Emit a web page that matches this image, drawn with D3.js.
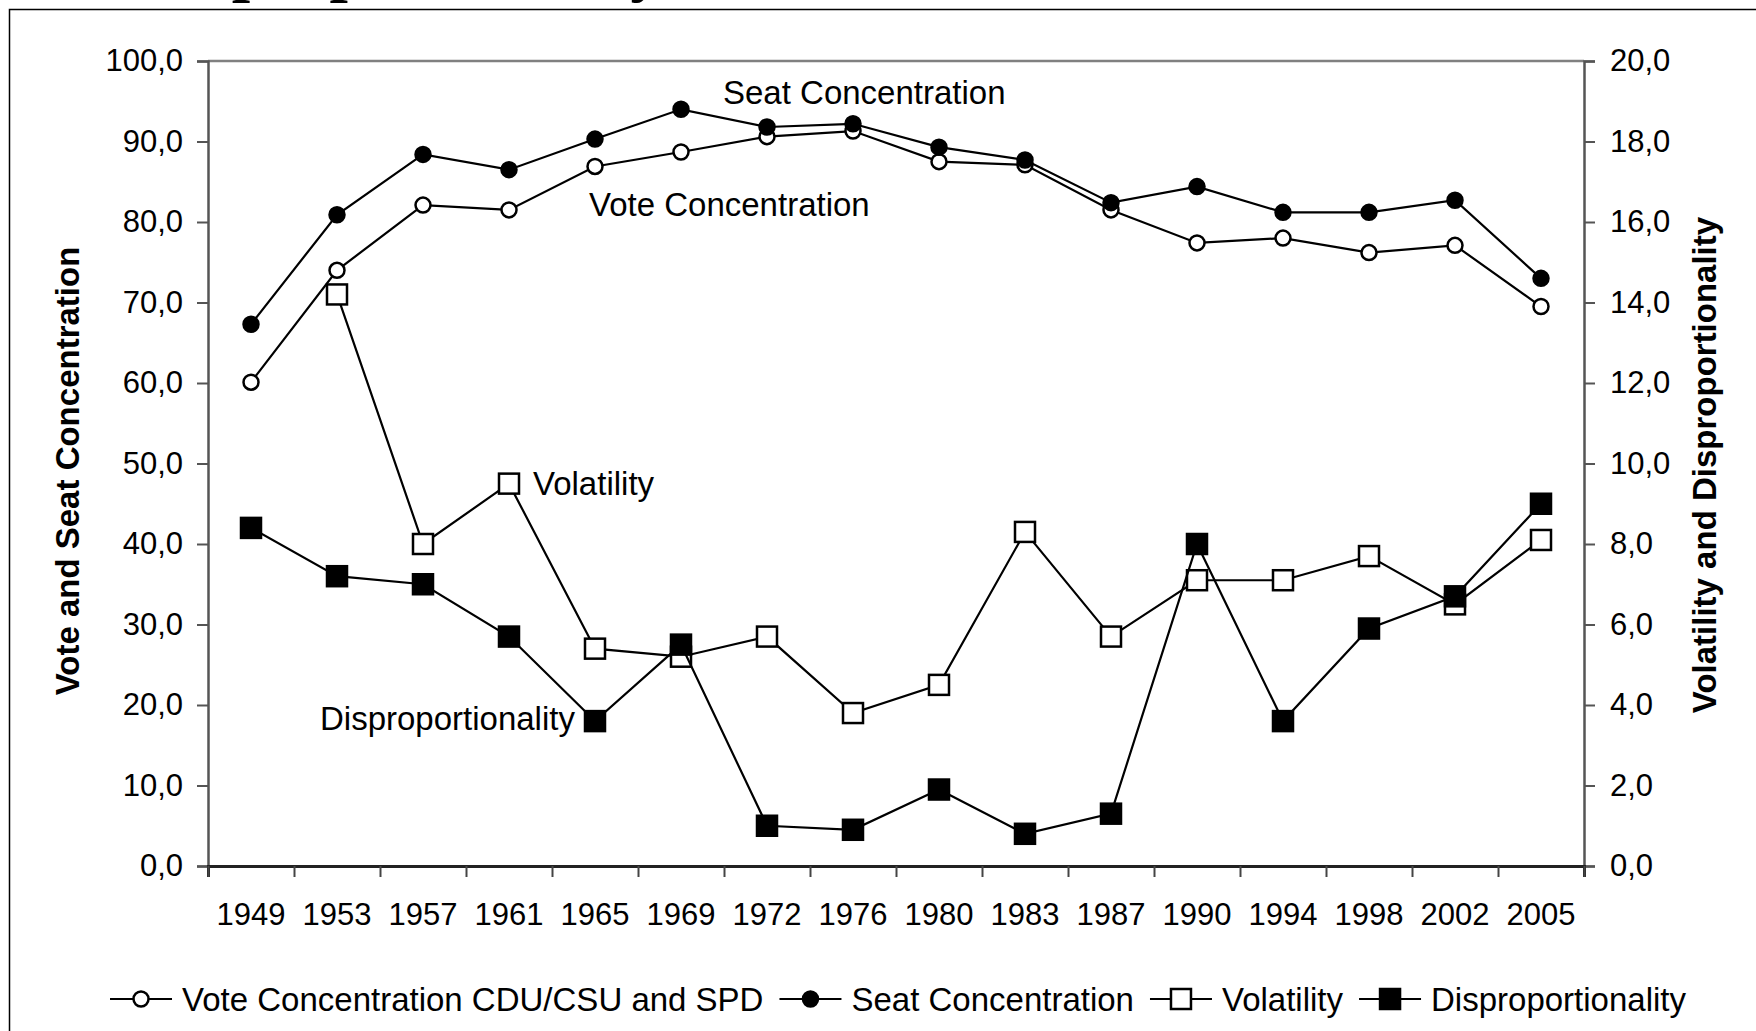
<!DOCTYPE html>
<html lang="en">
<head>
  <meta charset="utf-8">
  <script src="https://d3js.org/d3.v7.min.js"></script>
  <style>
    body { margin: 0; background: #fff; }
    svg { display: block; font-family: "Liberation Sans", Arial, sans-serif; }
    .tick text { font-size: 31px; fill: #000; }
    .series path { fill: none; stroke: #000; stroke-width: 2.2; }
    .lbl { font-size: 33px; fill: #000; }
    .ytitle { font-size: 33px; font-weight: bold; }
  </style>
</head>
<body>
<svg id="chart" width="1756" height="1031"></svg>
<script>
  var years = ["1949", "1953", "1957", "1961", "1965", "1969", "1972", "1976",
               "1980", "1983", "1987", "1990", "1994", "1998", "2002", "2005"];
  var voteConc = [60.1, 74.0, 82.1, 81.5, 86.9, 88.7, 90.6, 91.3, 87.5, 87.1, 81.5, 77.4, 78.0, 76.2, 77.1, 69.5];
  var seatConc = [67.3, 80.9, 88.4, 86.5, 90.3, 94.0, 91.8, 92.2, 89.3, 87.7, 82.4, 84.4, 81.2, 81.2, 82.7, 73.0];
  var volatility = [null, 14.2, 8.0, 9.5, 5.4, 5.2, 5.7, 3.8, 4.5, 8.3, 5.7, 7.1, 7.1, 7.7, 6.5, 8.1];
  var disprop = [8.4, 7.2, 7.0, 5.7, 3.6, 5.5, 1.0, 0.9, 1.9, 0.8, 1.3, 8.0, 3.6, 5.9, 6.7, 9.0];
  var leftTicks = [0, 10, 20, 30, 40, 50, 60, 70, 80, 90, 100];
  var rightTicks = [0, 2, 4, 6, 8, 10, 12, 14, 16, 18, 20];

  var svg = d3.select("#chart");
  var plotL = 208, plotR = 1584, plotT = 61, plotB = 866;
  var fmt = function(d) { return d3.format(".1f")(d).replace(".", ","); };

  // outer frame and cut-off heading above it
  svg.append("text")
      .attr("x", 140).attr("y", -11)
      .style("font-family", "'Liberation Serif', 'Times New Roman', serif")
      .style("font-weight", "bold").style("font-size", "66px")
      .text("Disproportionality");
  svg.append("rect")
      .attr("x", 9.5).attr("y", 9.5)
      .attr("width", 1800).attr("height", 1100)
      .attr("fill", "none").attr("stroke", "#000").attr("stroke-width", 1.5);

  var x = d3.scaleBand().domain(years).range([plotL, plotR]).padding(0);
  var xEdge = d3.scaleLinear().domain([0, years.length]).range([plotL, plotR]);
  var yL = d3.scaleLinear().domain([0, 100]).range([plotB, plotT]);
  var yR = d3.scaleLinear().domain([0, 20]).range([plotB, plotT]);
  var cx = function(i) { return x(years[i]) + x.bandwidth() / 2; };

  // plot area top border
  svg.append("line")
      .attr("x1", plotL).attr("x2", plotR).attr("y1", plotT).attr("y2", plotT)
      .attr("stroke", "#808080").attr("stroke-width", 2.5);

  var gL = svg.append("g").attr("transform", "translate(" + plotL + ",0)")
      .call(d3.axisLeft(yL).tickValues(leftTicks).tickFormat(fmt).tickSize(11).tickPadding(14));
  var gR = svg.append("g").attr("transform", "translate(" + plotR + ",0)")
      .call(d3.axisRight(yR).tickValues(rightTicks).tickFormat(fmt).tickSize(11).tickPadding(15));
  var gE = svg.append("g").attr("transform", "translate(0," + plotB + ")")
      .call(d3.axisBottom(xEdge).tickValues(d3.range(years.length + 1)).tickFormat("").tickSize(11));
  var gX = svg.append("g").attr("transform", "translate(0," + plotB + ")")
      .call(d3.axisBottom(x).tickSize(0).tickPadding(37));
  gX.select(".domain").remove();
  [gL, gR].forEach(function(g) {
    g.select(".domain").attr("stroke", "#555").attr("stroke-width", 2.5);
    g.selectAll(".tick line").attr("stroke", "#555").attr("stroke-width", 2);
    g.selectAll("text").style("font-family", "'Liberation Sans', Arial, sans-serif");
  });
  gE.select(".domain").attr("stroke", "#222").attr("stroke-width", 3);
  gE.selectAll(".tick line").attr("stroke", "#444").attr("stroke-width", 2);
  gX.selectAll("text").style("font-family", "'Liberation Sans', Arial, sans-serif");

  // axis titles
  svg.append("text").attr("class", "ytitle")
      .attr("transform", "translate(67,471) rotate(-90)")
      .attr("text-anchor", "middle").attr("dominant-baseline", "central")
      .text("Vote and Seat Concentration");
  svg.append("text").attr("class", "ytitle")
      .attr("transform", "translate(1704,465) rotate(-90)")
      .attr("text-anchor", "middle").attr("dominant-baseline", "central")
      .text("Volatility and Disproportionality");

  var series = [
    { name: "Vote Concentration CDU/CSU and SPD", values: voteConc, y: yL, shape: "circle", fill: "#fff" },
    { name: "Seat Concentration", values: seatConc, y: yL, shape: "circle", fill: "#000" },
    { name: "Volatility", values: volatility, y: yR, shape: "square", fill: "#fff" },
    { name: "Disproportionality", values: disprop, y: yR, shape: "square", fill: "#000" }
  ];

  function marker(g, s, px, py) {
    if (s.shape === "circle") {
      g.append("circle").attr("cx", px).attr("cy", py).attr("r", 7.5)
          .attr("fill", s.fill).attr("stroke", "#000").attr("stroke-width", 2.5);
    } else {
      g.append("rect").attr("x", px - 10).attr("y", py - 10).attr("width", 20).attr("height", 20)
          .attr("fill", s.fill).attr("stroke", "#000").attr("stroke-width", 2.5);
    }
  }

  series.forEach(function(s) {
    var g = svg.append("g").attr("class", "series");
    var line = d3.line()
        .defined(function(d) { return d != null; })
        .x(function(d, i) { return cx(i); })
        .y(function(d) { return s.y(d); });
    g.append("path").attr("d", line(s.values));
    s.values.forEach(function(d, i) {
      if (d != null) marker(g, s, cx(i), s.y(d));
    });
  });

  // in-plot labels
  var labels = [
    { text: "Seat Concentration", x: 723, y: 92 },
    { text: "Vote Concentration", x: 589, y: 204 },
    { text: "Volatility", x: 533, y: 483 },
    { text: "Disproportionality", x: 320, y: 718 }
  ];
  svg.selectAll(".plbl").data(labels).enter().append("text")
      .attr("class", "lbl")
      .attr("x", function(d) { return d.x; }).attr("y", function(d) { return d.y; })
      .attr("dominant-baseline", "central")
      .text(function(d) { return d.text; });

  // legend
  var legend = svg.append("g");
  var lx = 0, symW = 62, gapIn = 10, gapOut = 16;
  series.forEach(function(s) {
    var item = legend.append("g").attr("class", "series").attr("transform", "translate(" + lx + ",0)");
    item.append("path").attr("d", "M0,0H" + symW);
    marker(item, s, symW / 2, 0);
    var t = item.append("text").attr("class", "lbl")
        .attr("x", symW + gapIn).attr("dominant-baseline", "central").text(s.name);
    lx += symW + gapIn + t.node().getComputedTextLength() + gapOut;
  });
  lx -= gapOut;
  legend.attr("transform", "translate(" + (898 - lx / 2) + ",999)");
</script>
</body>
</html>
